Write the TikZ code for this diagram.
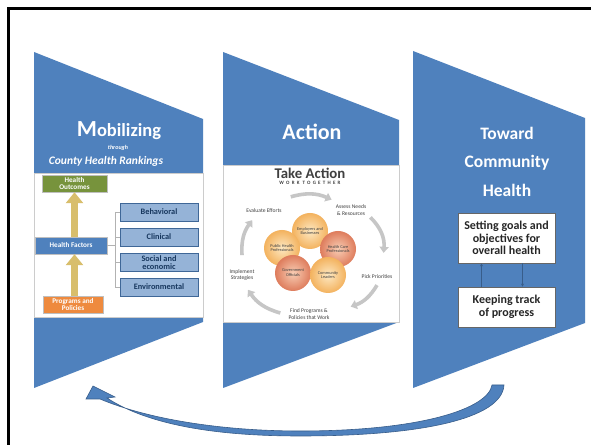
\documentclass[tikz,border=0pt]{standalone}
\usepackage{fontspec}
\setmainfont{Carlito}
\usepackage{tikz}
\usetikzlibrary{positioning, arrows.meta}
\definecolor{shapeblue}{HTML}{4F81BD}
\definecolor{arrowedge}{HTML}{385D8A}
\definecolor{outcomegreen}{HTML}{77933C}
\definecolor{programorange}{HTML}{EE8A3E}
\definecolor{driverblue}{HTML}{95B3D7}
\definecolor{navytext}{HTML}{17375E}
\definecolor{darktext}{HTML}{404040}
\definecolor{gold}{HTML}{D8BE6C}
\definecolor{peachin}{HTML}{FDE8C2}
\definecolor{peachout}{HTML}{F3B25E}
\definecolor{salmonin}{HTML}{F8CDB4}
\definecolor{salmonout}{HTML}{DE7C5C}
\newfontfamily\spacedfont[LetterSpace=45]{Carlito}
\tikzset{
	frame/.style={
		line width=2.2pt,
		black
	},
	panel/.style={
		fill=white,
		draw=gray!40,
		line width=0.5pt
	},
	headline/.append style={
		text=white,
		align=center,
		inner sep=0pt
	},
	factorbox/.append style={
		draw=black!25,
		line width=0.5pt,
		text=white,
		align=center,
		inner sep=0pt,
		minimum height=17pt,
		font={\fontsize{7.2}{7}\selectfont\bfseries}
	},
	driverbox/.append style={
		fill=driverblue,
		draw=shapeblue!80!black,
		line width=0.6pt,
		text=navytext,
		align=center,
		inner sep=0pt,
		minimum width=78pt,
		minimum height=18pt,
		font={\fontsize{8.3}{8.3}\selectfont\bfseries}
	},
	goldarrow/.style={
		-{Triangle[width=17pt,length=11pt]},
		line width=7.5pt,
		gold
	},
	bracketline/.style={
		gray!60,
		line width=0.6pt
	},
	actor/.append style={
		circle,
		minimum size=36pt,
		inner sep=0pt,
		align=center,
		text=black!75,
		font={\fontsize{4.3}{4.9}\selectfont}
	},
	peach/.style={inner color=peachin, outer color=peachout},
	salmon/.style={inner color=salmonin, outer color=salmonout},
	cyclelabel/.append style={
		align=center,
		inner sep=1pt,
		text=darktext,
		font={\fontsize{5.6}{6.4}\selectfont}
	},
	cyclearrow/.style={
		-{Triangle[width=9pt,length=6pt]},
		line width=3.6pt,
		gray!45
	},
	goalbox/.append style={
		fill=white,
		draw=black!60,
		line width=0.8pt,
		text=black!85,
		align=center,
		inner sep=0pt,
		minimum width=97pt,
		font={\fontsize{12}{12.5}\selectfont\bfseries}
	},
	smallarrow/.style={
		-{Stealth[width=3pt,length=3pt]},
		line width=0.9pt,
		arrowedge
	}
}

\begin{document}
\begin{tikzpicture}[x=1pt, y=1pt]
		\useasboundingbox[fill=white] (0,0) rectangle (591,444);
		\draw[frame] (8.5,-5) |- (600,435.5);
		
		\fill[shapeblue] (34,56) -- (34,392) -- (203,325) -- (203,122) -- cycle;
		\fill[shapeblue] (223,56) -- (223,392) -- (399,324) -- (399,122) -- cycle;
		\fill[shapeblue] (413,56) -- (413,393) -- (585,326) -- (585,121) -- cycle;
		\draw[panel] (34,127) rectangle (203,271);
		\draw[panel] (223,122) rectangle (399,279);
		
		\node(mobil)[headline, anchor=base, font=\bfseries] at (119,307) {\fontsize{23}{23}\selectfont M\fontsize{18.5}{18.5}\selectfont obilizing};
		\node(through)[headline, font={\fontsize{6}{6}\selectfont\bfseries\itshape}] at (118,296) {through};
		\node(county)[headline, font={\fontsize{11.5}{11.5}\selectfont\bfseries\itshape}] at (106,283) {County Health Rankings};
		\node(action)[headline, anchor=base, font={\fontsize{22}{22}\selectfont\bfseries}] at (312,304) {Action};
		\node(toward)[headline, font={\fontsize{17.5}{28.5}\selectfont\bfseries}] at (507,282.5) {Toward\\Community\\Health};
		
		\node(outcomes)[factorbox, fill=outcomegreen, minimum width=65pt] at (74.5,260.5) {Health\\Outcomes};
		\node(factors)[factorbox, fill=shapeblue, minimum width=72pt] at (71,198.5) {Health Factors};
		\node(programs)[factorbox, fill=programorange, minimum width=60pt] at (73,139.5) {Programs and\\Policies};
		\node(behavioral)[driverbox] at (159,232) {Behavioral};
		\node(clinical)[driverbox] at (159,207) {Clinical};
		\node(social)[driverbox] at (159,181.5) {Social and\\economic};
		\node(environmental)[driverbox] at (159,157) {Environmental};
		\coordinate(bracket) at (115,0);
		
		\draw[goldarrow] (factors.north -| outcomes.south) -- (outcomes.south);
		\draw[goldarrow] (programs.north -| outcomes.south) -- (factors.south -| outcomes.south);
		\draw[bracketline] (factors.east) -- (bracket |- factors.east);
		\draw[bracketline] (bracket |- behavioral.west) -- (bracket |- environmental.west);
		\foreach \driver in {behavioral, clinical, social, environmental}
			\draw[bracketline] (bracket |- \driver.west) -- (\driver.west);
		
		\node(takeaction)[inner sep=0pt, text=darktext, font={\fontsize{14.8}{14.8}\selectfont\bfseries}] at (310,271) {Take Action};
		\node(worktogether)[below=2.5pt of takeaction, inner sep=0pt, text=darktext, font={\spacedfont\fontsize{5}{5}\selectfont\bfseries}] {WORK\hspace{3pt}TOGETHER};
		
		\node(employers)[actor, peach] at (310,213) {Employers and\\Businesses};
		\node(careprof)[actor, salmon] at (338,195) {Health Care\\Professionals};
		\node(publichealth)[actor, peach] at (282,196) {Public Health\\Professionals};
		\node(government)[actor, salmon] at (293,171) {Government\\Officials};
		\node(community)[actor, peach] at (328,169) {Community\\Leaders};
		
		\node(evaluate)[cyclelabel] at (264,233) {Evaluate Efforts};
		\node(assess)[cyclelabel] at (351,234) {Assess Needs\\\& Resources};
		\node(pick)[cyclelabel] at (377,167) {Pick Priorities};
		\node(find)[cyclelabel] at (309,130) {Find Programs \&\\Policies that Work};
		\node(implement)[cyclelabel] at (242,169) {Implement\\Strategies};
		
		\draw[cyclearrow] ([shift={(8,11)}]evaluate.north east) to[bend left=20] ([shift={(-3,4)}]assess.north west);
		\draw[cyclearrow] ([shift={(3,-1)}]assess.south east) to[bend left=25] ([shift={(-10,21)}]pick.north east);
		\draw[cyclearrow] ([shift={(0,-5)}]pick.south) to[bend left=20] ([shift={(20,1)}]find.north east);
		\draw[cyclearrow] ([shift={(-7,1)}]find.west) to[bend left=20] ([shift={(6,-8)}]implement.south);
		\draw[cyclearrow] ([shift={(0,13)}]implement.north) to[bend left=20] ([shift={(7,-6)}]evaluate.south west);
		
		\node(setting)[goalbox, minimum height=50pt] at (506.5,206) {Setting goals and\\objectives for\\overall health};
		\node(keeping)[goalbox, minimum height=40pt] at (506.5,137) {Keeping track\\of progress};
		\draw[smallarrow] ([xshift=-25pt]keeping.north) -- ([xshift=-25pt]setting.south);
		\draw[smallarrow] ([xshift=16pt]setting.south) -- ([xshift=16pt]keeping.north);
		
		\filldraw[fill=shapeblue, draw=arrowedge, line width=0.6pt] (93,58) -- (115,47) -- (107,46) .. controls (150,18) and (220,8) .. (300,8) .. controls (420,8) and (502,25) .. (504,59) -- (492,59) .. controls (488,35) and (420,13) .. (300,13) .. controls (225,13) and (150,24) .. (100,45) -- (86,45) -- cycle;
		\end{tikzpicture}
\end{document}
